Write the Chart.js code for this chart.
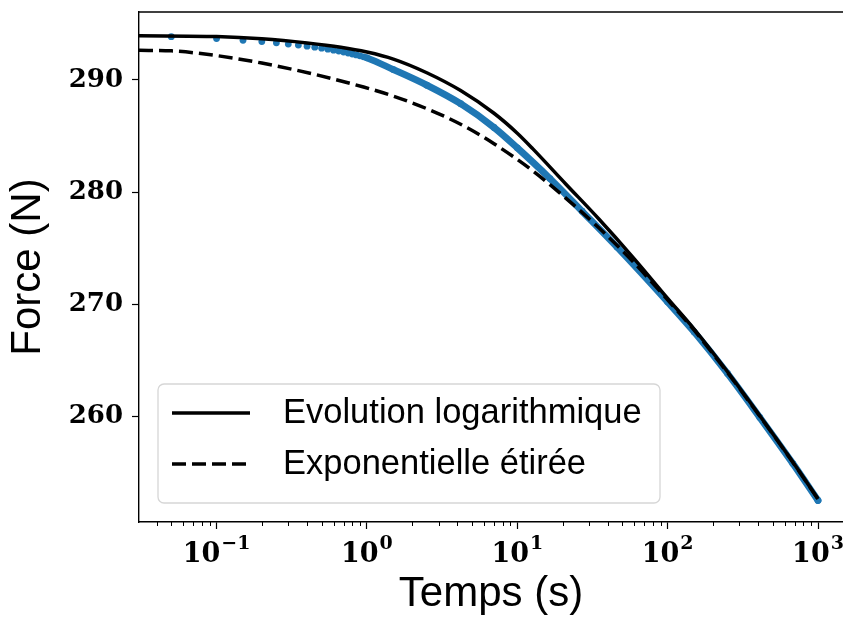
<!DOCTYPE html>
<html><head><meta charset="utf-8">
<script src="https://cdn.jsdelivr.net/npm/chart.js@4.4.0/dist/chart.umd.min.js"></script>
<style>html,body{margin:0;padding:0;background:#fff;overflow:hidden}</style>
</head><body>
<canvas id="c" width="843" height="622"></canvas>
<script>
// Measured data (blue markers)
const blueTimes = [0.05,0.1,0.15,0.2,0.25,0.3,0.35,0.4,0.45,0.5,0.55,0.6,0.65,0.7,0.75,0.8,0.85,0.9,0.95,1.0,1.5,2.5,4.2,7,10,16.5,27,46,100,150,250,410,680,1000];
const blueForce = [293.87,293.70,293.55,293.43,293.32,293.21,293.12,293.02,292.93,292.84,292.75,292.66,292.58,292.49,292.41,292.32,292.24,292.16,292.07,291.98,290.93,289.54,287.88,285.76,283.94,281.2,278.28,275.09,270.18,267.51,263.8,259.88,255.76,252.46];
// Evolution logarithmique (solid)
const logTimes = [0.0305,0.1,0.2,0.4,0.67,1,1.5,2.5,4.2,7,10,12.7,21,35,59,100,150,250,410,680,1000];
const logForce = [293.95,293.88,293.68,293.31,292.93,292.5,291.87,290.65,289.06,287.03,285.25,283.85,280.72,277.57,274.15,270.51,267.77,263.95,260.03,255.9,252.6];
// Exponentielle étirée (dashed)
const expTimes = [0.0305,0.05,0.095,0.2,0.44,0.95,1.5,2.5,4.2,7,12.7,21,35,59,100,150,250,410,680,1000];
const expForce = [292.65,292.6,292.22,291.51,290.53,289.37,288.56,287.44,286.05,284.31,281.88,279.46,276.78,273.77,270.37,267.66,263.88,259.99,255.87,252.59];

const seriesNames = ["Evolution logarithmique","Exponentielle étirée"];
const xMajorTicks = [0.1,1,10,100,1000];
const xTickBase = "10";
const xTickExps = ["−1","0","1","2","3"];
const xMinorTicks = [0.04,0.05,0.06,0.07,0.08,0.09,0.2,0.3,0.4,0.5,0.6,0.7,0.8,0.9,2,3,4,5,6,7,8,9,20,30,40,50,60,70,80,90,200,300,400,500,600,700,800,900];
const yTickValues = [260,270,280,290];
const xRange = [0.0305, 1466];
const yRange = [250.54, 296.07];

const pts = (xs, ys) => xs.map((x,i)=>({x:x, y:ys[i]}));
const BLUE = '#1f77b4';
const SANS = '"Liberation Sans", Arial, sans-serif';
const SERIF = '"DejaVu Serif", "Liberation Serif", serif';

const extras = {
  id:'extras',
  afterDraw(chart){
    const ctx = chart.ctx, a = chart.chartArea, xs = chart.scales.x;
    ctx.save();
    // top spine
    ctx.strokeStyle = '#000'; ctx.lineWidth = 1.4;
    ctx.beginPath(); ctx.moveTo(a.left, a.top); ctx.lineTo(a.right+2, a.top); ctx.stroke();
    // minor ticks
    ctx.lineWidth = 1;
    xMinorTicks.forEach(v=>{
      const p = Math.round(xs.getPixelForValue(v))+0.5;
      ctx.beginPath(); ctx.moveTo(p, a.bottom); ctx.lineTo(p, a.bottom+4); ctx.stroke();
    });
    // x tick labels with superscript exponents
    ctx.fillStyle = '#000'; ctx.textBaseline = 'alphabetic'; ctx.textAlign = 'left';
    xs.ticks.forEach(t=>{
      const i = xMajorTicks.indexOf(t.value); if (i < 0) return;
      const p = xs.getPixelForValue(t.value);
      ctx.font = 'bold 27px '+SERIF; const wb = ctx.measureText(xTickBase).width;
      ctx.font = 'bold 19px '+SERIF; const we = ctx.measureText(xTickExps[i]).width;
      const x0 = p - (wb+1+we)/2;
      ctx.font = 'bold 27px '+SERIF; ctx.fillText(xTickBase, x0, a.bottom+40);
      ctx.font = 'bold 19px '+SERIF; ctx.fillText(xTickExps[i], x0+wb+1, a.bottom+27);
    });
    // legend
    const bx = a.left+19, by = a.bottom-138, bw = 502, bh = 119, r = 6;
    ctx.beginPath();
    ctx.moveTo(bx+r,by); ctx.lineTo(bx+bw-r,by); ctx.arcTo(bx+bw,by,bx+bw,by+r,r);
    ctx.lineTo(bx+bw,by+bh-r); ctx.arcTo(bx+bw,by+bh,bx+bw-r,by+bh,r);
    ctx.lineTo(bx+r,by+bh); ctx.arcTo(bx,by+bh,bx,by+bh-r,r);
    ctx.lineTo(bx,by+r); ctx.arcTo(bx,by,bx+r,by,r); ctx.closePath();
    ctx.fillStyle = 'rgba(255,255,255,0.8)'; ctx.fill();
    ctx.strokeStyle = '#d6d6d6'; ctx.lineWidth = 1.3; ctx.stroke();
    const rows = [{ds:chart.data.datasets[0], y:by+29},{ds:chart.data.datasets[1], y:by+80}];
    rows.forEach(row=>{
      ctx.strokeStyle = '#000'; ctx.lineWidth = row.ds.borderWidth;
      ctx.setLineDash(row.ds.borderDash || []);
      ctx.lineCap = 'butt';
      ctx.beginPath(); ctx.moveTo(bx+14, row.y); ctx.lineTo(bx+92, row.y); ctx.stroke();
      ctx.setLineDash([]);
      ctx.fillStyle = '#000'; ctx.font = '34.5px '+SANS; ctx.textBaseline='middle'; ctx.textAlign='left';
      ctx.fillText(row.ds.label, bx+125, row.y);
    });
    ctx.restore();
  }
};

new Chart(document.getElementById('c'), {
  type:'scatter',
  data:{datasets:[
    {label:seriesNames[0], data:pts(logTimes,logForce), showLine:true, borderColor:'#000', borderWidth:3.5, pointRadius:0, cubicInterpolationMode:'monotone', order:1},
    {label:seriesNames[1], data:pts(expTimes,expForce), showLine:true, borderColor:'#000', borderWidth:3.5, borderDash:[14,6], pointRadius:0, cubicInterpolationMode:'monotone', order:2},
    {label:'Mesures', data:pts(blueTimes,blueForce), showLine:true, borderColor:BLUE, backgroundColor:BLUE, borderWidth:6.8, pointRadius:3.4, pointBorderWidth:0, cubicInterpolationMode:'monotone', borderCapStyle:'round', order:3,
     segment:{borderColor: c => c.p0.parsed.x < 0.99 ? 'rgba(0,0,0,0)' : BLUE}}
  ]},
  options:{
    responsive:false, animation:false, devicePixelRatio:1,
    layout:{autoPadding:false, padding:{top:12,right:0,left:0,bottom:0}},
    plugins:{legend:{display:false}, tooltip:{enabled:false}},
    scales:{
      x:{type:'logarithmic', min:xRange[0], max:xRange[1],
        afterBuildTicks: s => { s.ticks = xMajorTicks.map(v=>({value:v, major:true})); },
        afterFit: s => { s.height = 100; s.paddingLeft = 0; s.paddingRight = 0; },
        grid:{drawOnChartArea:false, drawTicks:true, tickLength:7, color:'#000', tickWidth:1.2},
        border:{display:true, color:'#000', width:1.4},
        ticks:{display:false, autoSkip:false, maxRotation:0,
          callback:(v)=>{ const i = xMajorTicks.indexOf(v); return i>=0 ? xTickBase + xTickExps[i] : ''; }},
        title:{display:true, text:'Temps (s)', color:'#000', font:{family:SANS, size:42}, padding:{top:0,bottom:2}}
      },
      y:{type:'linear', min:yRange[0], max:yRange[1],
        afterBuildTicks: s => { s.ticks = yTickValues.map(v=>({value:v})); },
        afterFit: s => { s.width = 139; s.paddingTop = 0; s.paddingBottom = 0; },
        grid:{drawOnChartArea:false, drawTicks:true, tickLength:7, color:'#000', tickWidth:1.2},
        border:{display:true, color:'#000', width:1.4},
        ticks:{padding:9, color:'#000', font:{family:SERIF, size:26, weight:'bold'}},
        title:{display:true, text:'Force (N)', color:'#000', font:{family:SANS, size:42}, padding:{top:3,bottom:0}}
      }
    }
  },
  plugins:[extras]
});
</script>
</body></html>
